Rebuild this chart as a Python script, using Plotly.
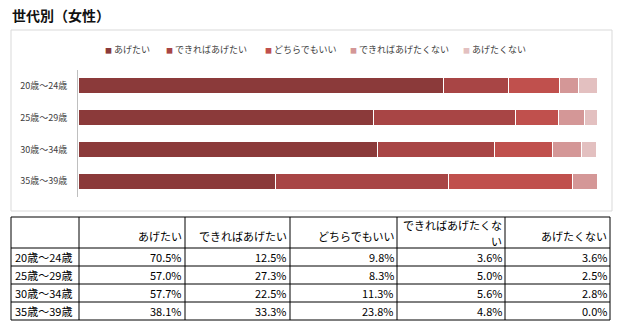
import plotly.graph_objects as go

title = "世代別（女性）"
ages = ["20歳～24歳", "25歳～29歳", "30歳～34歳", "35歳～39歳"]
series = ["あげたい", "できればあげたい", "どちらでもいい", "できればあげたくない", "あげたくない"]
header_labels = ["あげたい", "できればあげたい", "どちらでもいい", "できればあげたくな<br>い", "あげたくない"]
v_agetai = [70.5, 57.0, 57.7, 38.1]
v_dekireba = [12.5, 27.3, 22.5, 33.3]
v_dochira = [9.8, 8.3, 11.3, 23.8]
v_dekireba_not = [3.6, 5.0, 5.6, 4.8]
v_not = [3.6, 2.5, 2.8, 0.0]
values = [v_agetai, v_dekireba, v_dochira, v_dekireba_not, v_not]
colors = ["#8B3A3A", "#A84545", "#C0504D", "#D49797", "#E3C0C0"]

W, H = 620, 328
FONT = "Noto Sans CJK JP"

def px(x):
    return x / W

def py(y):
    return 1 - y / H

fig = go.Figure()
for name, vals, c in zip(series, values, colors):
    fig.add_trace(go.Bar(
        y=ages, x=vals, name=name, orientation="h",
        marker=dict(color=c, line=dict(color="white", width=1)),
        showlegend=False, hoverinfo="x+name",
    ))

annotations = []
shapes = []

# chart frame
shapes.append(dict(type="rect", xref="paper", yref="paper",
                   x0=px(11), x1=px(612), y0=py(211), y1=py(30),
                   line=dict(color="#D9D9D9", width=1), fillcolor="rgba(0,0,0,0)"))

# legend built as annotations
leg_x = [103, 164, 263, 348, 461]
for name, c, lx in zip(series, colors, leg_x):
    annotations.append(dict(
        x=px(lx), y=py(49), xref="paper", yref="paper", xanchor="left", yanchor="middle",
        text=f'<span style="color:{c};font-size:7px">■</span> {name}', showarrow=False,
        font=dict(family=FONT, size=9, color="#404040"),
    ))
annotations.append(dict(
    x=px(10), y=py(15), xref="paper", yref="paper", xanchor="left", yanchor="middle",
    text=f"<b>{title}</b>", showarrow=False,
    font=dict(family=FONT, size=14, color="#111111"),
))

# table grid
col_x = [11, 79, 185, 290, 397, 505, 610]
table_top, header_bottom, row_h = 217, 248, 18
row_y = [header_bottom + row_h * i for i in range(len(ages) + 1)]
table_bottom = row_y[-1]
for x in col_x:
    shapes.append(dict(type="line", xref="paper", yref="paper",
                       x0=px(x), x1=px(x), y0=py(table_top), y1=py(table_bottom),
                       line=dict(color="black", width=1)))
for y in [table_top] + row_y:
    shapes.append(dict(type="line", xref="paper", yref="paper",
                       x0=px(col_x[0]), x1=px(col_x[-1]), y0=py(y), y1=py(y),
                       line=dict(color="black", width=1)))

TFONT = dict(family=FONT, size=11, color="black")
# header (wrapped labels drawn line by line)
for j, lab in enumerate(header_labels):
    lines = lab.split("<br>")
    if len(lines) == 1:
        ys = [236]
    else:
        ys = [225 + 16 * k for k in range(len(lines))]
    for line, yc in zip(lines, ys):
        annotations.append(dict(
            x=px(col_x[j + 2] - 2), y=py(yc), xref="paper", yref="paper",
            xanchor="right", yanchor="middle", align="right",
            text=line, showarrow=False, font=TFONT, borderpad=0,
        ))
# rows
for i, age in enumerate(ages):
    yc = (row_y[i] + row_y[i + 1]) / 2
    annotations.append(dict(
        x=px(col_x[0] + 2), y=py(yc), xref="paper", yref="paper",
        xanchor="left", yanchor="middle", text=age, showarrow=False, font=TFONT,
    ))
    for j, vals in enumerate(values):
        annotations.append(dict(
            x=px(col_x[j + 2] - 1), y=py(yc), xref="paper", yref="paper",
            xanchor="right", yanchor="middle", text=f"{vals[i]:.1f}%",
            showarrow=False, font=TFONT,
        ))

fig.update_layout(
    width=W, height=H,
    margin=dict(l=0, r=0, t=0, b=0),
    paper_bgcolor="white", plot_bgcolor="white",
    barmode="stack", bargap=0.5,
    xaxis=dict(domain=[px(78), px(597)], range=[0, 100], visible=False, fixedrange=True),
    yaxis=dict(domain=[py(197), py(70)], autorange="reversed", showline=True,
               linecolor="#BFBFBF", linewidth=1, ticks="", showgrid=False,
               tickfont=dict(family=FONT, size=9, color="#404040"), ticklabelstandoff=8),
    annotations=annotations,
    shapes=shapes,
    showlegend=False,
)

fig.write_html("out.html")
